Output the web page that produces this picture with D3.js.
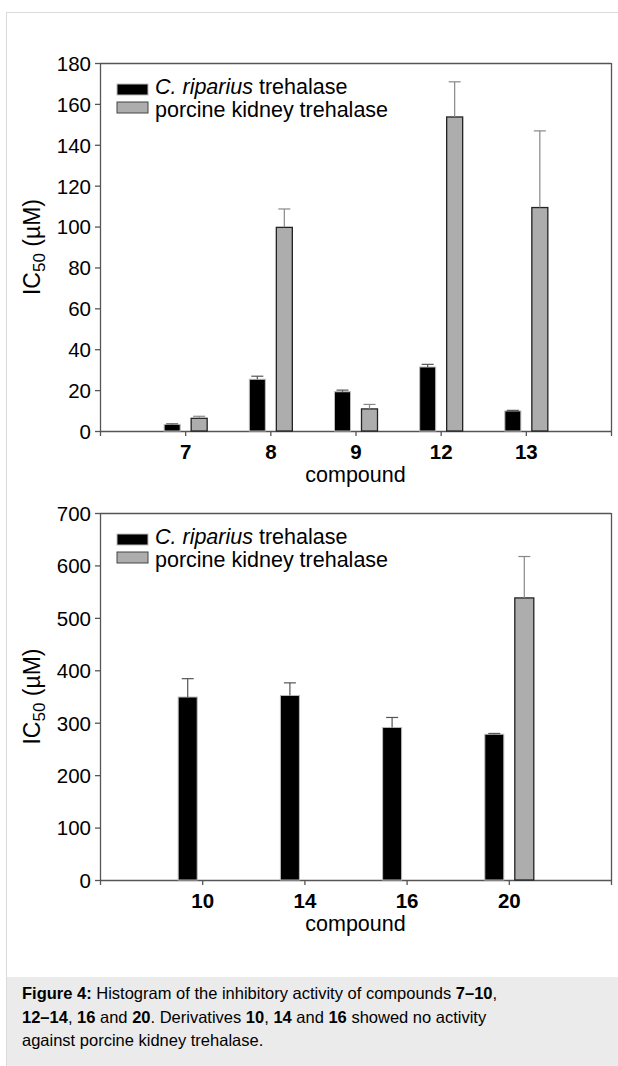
<!DOCTYPE html>
<html>
<head>
<meta charset="utf-8">
<script src="https://cdn.jsdelivr.net/npm/d3@7"></script>
<style>
body { margin: 0; background: #fff; }
text { font-family: "Liberation Sans", Arial, sans-serif; fill: #000; }
</style>
</head>
<body>
<script>
// top panel
var topCompounds = ["7", "8", "9", "12", "13"];
var topRiparius = [3.2, 25.3, 19.2, 31.3, 9.8];
var topRipariusErr = [0.3, 1.5, 0.8, 1.3, 0.3];
var topPorcine = [6.2, 99.6, 10.8, 153.6, 109.3];
var topPorcineErr = [1.0, 9.0, 2.2, 17.2, 37.5];
var topTicks = [0, 20, 40, 60, 80, 100, 120, 140, 160, 180];

// bottom panel (porcine kidney: no activity for 10, 14, 16)
var bottomCompounds = ["10", "14", "16", "20"];
var bottomRiparius = [349, 352, 291, 278];
var bottomRipariusErr = [35, 24, 19, 1.5];
var bottomPorcine = [null, null, null, 538];
var bottomPorcineErr = [null, null, null, 79];
var bottomTicks = [0, 100, 200, 300, 400, 500, 600, 700];

var seriesNames = ["C. riparius trehalase", "porcine kidney trehalase"];

var width = 618;
var height = 1066;
var left = 100;
var right = 611;

var svg = d3.select("body").append("svg").attr("width", width).attr("height", height);

// page frame
svg.append("line").attr("x1", 6.5).attr("x2", 6.5).attr("y1", 12).attr("y2", height).attr("stroke", "#dadada");
svg.append("line").attr("x1", 6).attr("x2", width).attr("y1", 12.5).attr("y2", 12.5).attr("stroke", "#dadada");

function drawPanel(top, bottom, compounds, riparius, ripariusErr, porcine, porcineErr, ticks, barW) {
    var n = compounds.length;
    var x = d3.scaleLinear().domain([0, n + 1]).range([left, right]);
    var y = d3.scaleLinear().domain([0, ticks[ticks.length - 1]]).range([bottom, top]);
    var g = svg.append("g");

    // frame top + right
    g.append("line").attr("x1", left).attr("x2", right).attr("y1", top + 0.5).attr("y2", top + 0.5).attr("stroke", "#555").attr("stroke-width", 1.3);
    g.append("line").attr("x1", right + 0.5).attr("x2", right + 0.5).attr("y1", top).attr("y2", bottom).attr("stroke", "#555").attr("stroke-width", 1.3);

    var yaxis = d3.axisLeft(y).tickValues(ticks).tickSize(5).tickSizeOuter(0).tickPadding(4);
    var ya = g.append("g").attr("transform", "translate(" + left + ",0)").call(yaxis);
    ya.selectAll("path, line").attr("stroke", "#555").attr("stroke-width", 1.3);
    ya.selectAll("text").style("font-size", "20.5px").attr("dy", "0.36em");

    var xaxis = d3.axisBottom(x).tickValues(d3.range(0, n + 2)).tickFormat(function (d) {
        return compounds[d - 1] || "";
    }).tickSize(5).tickSizeOuter(0).tickPadding(8);
    var xa = g.append("g").attr("transform", "translate(0," + bottom + ")").call(xaxis);
    xa.selectAll("path, line").attr("stroke", "#555").attr("stroke-width", 1.3);
    xa.selectAll("text").style("font-size", "20.5px").style("font-weight", "bold");

    var gap = 5;

    // C. riparius bars (black)
    g.selectAll(".rip").data(riparius).enter().append("rect").attr("class", "rip")
        .attr("x", function (d, i) { return x(i + 1) - gap - barW; })
        .attr("y", function (d) { return y(d); })
        .attr("width", barW)
        .attr("height", function (d) { return bottom - y(d); })
        .attr("fill", "#000").attr("stroke", "#bbb").attr("stroke-width", 1);

    // porcine bars (gray)
    var porcData = porcine.map(function (d, i) { return { v: d, e: porcineErr[i], i: i }; }).filter(function (d) { return d.v != null; });
    g.selectAll(".por").data(porcData).enter().append("rect").attr("class", "por")
        .attr("x", function (d) { return x(d.i + 1) + gap + 1; })
        .attr("y", function (d) { return y(d.v); })
        .attr("width", barW)
        .attr("height", function (d) { return bottom - y(d.v); })
        .attr("fill", "#adadad").attr("stroke", "#222").attr("stroke-width", 1.3);

    // error bars
    var ripErr = riparius.map(function (d, i) { return { v: d, e: ripariusErr[i], cx: x(i + 1) - gap - barW / 2 }; });
    var porErr = porcData.map(function (d) { return { v: d.v, e: d.e, cx: x(d.i + 1) + gap + 1 + barW / 2 }; });
    [[ripErr, "#555"], [porErr, "#888"]].forEach(function (s) {
        var eg = g.append("g");
        eg.selectAll(".ev").data(s[0]).enter().append("line")
            .attr("x1", function (d) { return d.cx; }).attr("x2", function (d) { return d.cx; })
            .attr("y1", function (d) { return y(d.v); }).attr("y2", function (d) { return y(d.v + d.e); })
            .attr("stroke", s[1]).attr("stroke-width", 1.2);
        eg.selectAll(".ec").data(s[0]).enter().append("line")
            .attr("x1", function (d) { return d.cx - 6; }).attr("x2", function (d) { return d.cx + 6; })
            .attr("y1", function (d) { return y(d.v + d.e); }).attr("y2", function (d) { return y(d.v + d.e); })
            .attr("stroke", s[1]).attr("stroke-width", 1.2);
    });

    // legend
    var lg = g.append("g").attr("transform", "translate(117," + top + ")");
    lg.append("rect").attr("x", 0).attr("y", 21).attr("width", 31).attr("height", 11).attr("fill", "#000").attr("stroke", "#bbb");
    lg.append("rect").attr("x", 0).attr("y", 39).attr("width", 31).attr("height", 11).attr("fill", "#adadad").attr("stroke", "#444");
    var t1 = lg.append("text").attr("x", 38).attr("y", 31).style("font-size", "21.5px");
    t1.append("tspan").style("font-style", "italic").text("C. riparius");
    t1.append("tspan").text(" trehalase");
    lg.append("text").attr("x", 38).attr("y", 54).style("font-size", "21.5px").text(seriesNames[1]);

    // axis titles
    g.append("text").attr("x", (left + right) / 2).attr("y", bottom + 51).attr("text-anchor", "middle").style("font-size", "21.5px").text("compound");
    var yl = g.append("text").attr("transform", "translate(40," + (top + bottom) / 2 + ") rotate(-90)").attr("text-anchor", "middle").style("font-size", "23px");
    yl.append("tspan").text("IC");
    yl.append("tspan").attr("dy", 5).style("font-size", "17px").text("50");
    yl.append("tspan").attr("dy", -5).text(" (\u00b5M)");
}

drawPanel(63, 431, topCompounds, topRiparius, topRipariusErr, topPorcine, topPorcineErr, topTicks, 16);
drawPanel(513, 880, bottomCompounds, bottomRiparius, bottomRipariusErr, bottomPorcine, bottomPorcineErr, bottomTicks, 19);

// caption
svg.append("rect").attr("x", 7).attr("y", 977).attr("width", width - 7).attr("height", height - 977).attr("fill", "#ebebeb");
var captionLines = [
    [["Figure 4:", true], [" Histogram of the inhibitory activity of compounds ", false], ["7\u201310", true], [",", false]],
    [["12\u201314", true], [", ", false], ["16", true], [" and ", false], ["20", true], [". Derivatives ", false], ["10", true], [", ", false], ["14", true], [" and ", false], ["16", true], [" showed no activity", false]],
    [["against porcine kidney trehalase.", false]]
];
captionLines.forEach(function (line, i) {
    var t = svg.append("text").attr("x", 22).attr("y", 999 + i * 23.5).style("font-size", "16.5px");
    line.forEach(function (p) {
        t.append("tspan").style("font-weight", p[1] ? "bold" : "normal").text(p[0]);
    });
});
</script>
</body>
</html>
